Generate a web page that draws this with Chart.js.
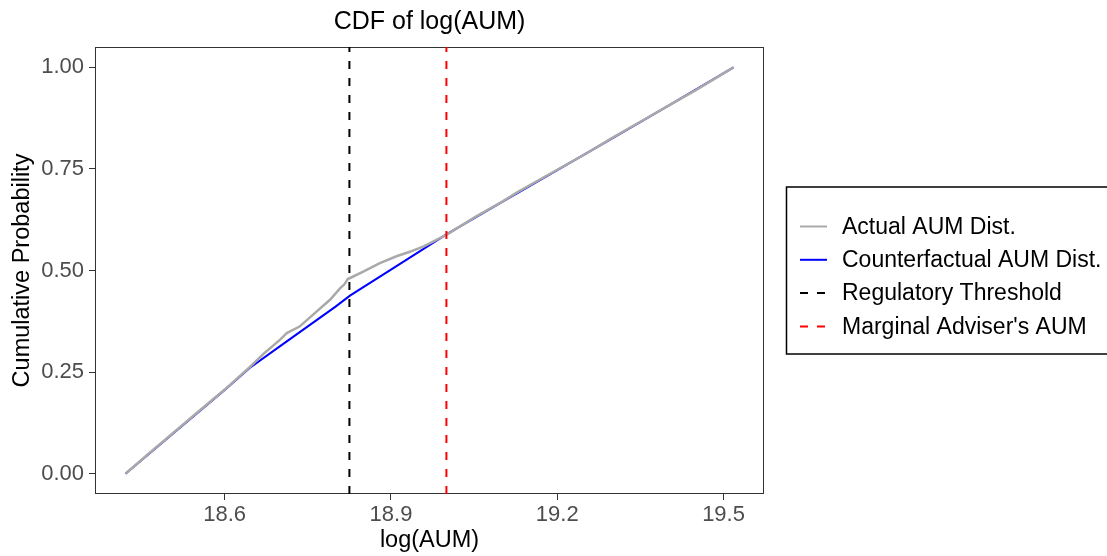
<!DOCTYPE html>
<html>
<head>
<meta charset="utf-8">
<script src="https://cdn.jsdelivr.net/npm/chart.js@4/dist/chart.umd.min.js"></script>
<style>
  body { margin: 0; background: #fff; }
  canvas { display: block; }
</style>
</head>
<body>
<canvas id="cdfChart" width="1107" height="556"></canvas>
<script>
// Dados
const actualX = [18.421, 18.46, 18.5, 18.55, 18.6, 18.645, 18.67, 18.7, 18.712, 18.735, 18.76, 18.79, 18.808, 18.816, 18.822, 18.83, 18.85, 18.88, 18.91, 18.934, 18.96, 18.976, 19.003, 19.05, 19.1, 19.13, 19.2, 19.25, 19.3, 19.35, 19.4, 19.45, 19.518];
const actualY = [0, 0.046, 0.092, 0.150, 0.207, 0.262, 0.295, 0.330, 0.346, 0.362, 0.392, 0.428, 0.456, 0.466, 0.479, 0.484, 0.497, 0.518, 0.535, 0.546, 0.560, 0.571, 0.590, 0.630, 0.669, 0.694, 0.748, 0.786, 0.827, 0.866, 0.905, 0.944, 1.0];

const counterX = [18.421, 18.5, 18.6, 18.645, 18.7, 18.8, 18.826, 18.9, 19.0, 19.1, 19.2, 19.3, 19.4, 19.518];
const counterY = [0, 0.091, 0.206, 0.260, 0.314, 0.411, 0.438, 0.502, 0.589, 0.668, 0.747, 0.826, 0.905, 1.0];

const thresholdX = 18.825;
const marginalX = 19.0;

const xTicks = [18.6, 18.9, 19.2, 19.5];
const yTicks = [0, 0.25, 0.5, 0.75, 1.0];

const legendLabels = ['Actual AUM Dist.', 'Counterfactual AUM Dist.', 'Regulatory Threshold', "Marginal Adviser's AUM"];

const yMin = -0.05, yMax = 1.05;
const toPoints = (xs, ys) => xs.map((x, i) => ({ x: x, y: ys[i] }));
const vline = x => [{ x: x, y: yMin }, { x: x, y: yMax }];

const FONT = 'Liberation Sans, Arial, sans-serif';

// moldura do painel + legenda
const extras = {
  id: 'extras',
  beforeDatasetsDraw(chart) {
    const { ctx, chartArea: a } = chart;
    ctx.save();
    ctx.strokeStyle = '#333333';
    ctx.lineWidth = 1;
    ctx.strokeRect(a.left + 0.5, a.top + 0.5, a.right - a.left - 1, a.bottom - a.top - 1);
    ctx.restore();
  },
  afterDraw(chart) {
    const ctx = chart.ctx;
    ctx.save();
    ctx.strokeStyle = '#000';
    ctx.lineWidth = 1.5;
    ctx.strokeRect(786.5, 187, 340, 167);
    const estilos = [
      { color: '#a9a9a9', dash: [] },
      { color: '#0000ff', dash: [] },
      { color: '#000000', dash: [8, 9] },
      { color: '#ff0000', dash: [8, 9] }
    ];
    ctx.font = '23px ' + FONT;
    ctx.textBaseline = 'middle';
    legendLabels.forEach((txt, i) => {
      const y = 226.5 + i * 33.3;
      ctx.strokeStyle = estilos[i].color;
      ctx.lineWidth = 2;
      ctx.setLineDash(estilos[i].dash);
      ctx.beginPath();
      ctx.moveTo(800, y);
      ctx.lineTo(827, y);
      ctx.stroke();
      ctx.setLineDash([]);
      ctx.fillStyle = '#000';
      ctx.fillText(txt, 842, y + 1);
    });
    ctx.restore();
  }
};

const ctx = document.getElementById('cdfChart').getContext('2d');
const grafico = new Chart(ctx, {
  type: 'scatter',
  data: {
    datasets: [
      {
        label: 'Counterfactual AUM Dist.',
        data: toPoints(counterX, counterY),
        borderColor: '#0000ff',
        borderWidth: 2,
        showLine: true,
        pointRadius: 0,
        order: 3
      },
      {
        label: 'Actual AUM Dist.',
        data: toPoints(actualX, actualY),
        borderColor: '#a9a9a9',
        borderWidth: 2.5,
        showLine: true,
        pointRadius: 0,
        order: 2
      },
      {
        label: 'Regulatory Threshold',
        data: vline(thresholdX),
        borderColor: '#000000',
        borderWidth: 2,
        borderDash: [8, 9],
        showLine: true,
        pointRadius: 0,
        order: 1
      },
      {
        label: "Marginal Adviser's AUM",
        data: vline(marginalX),
        borderColor: '#ff0000',
        borderWidth: 2,
        borderDash: [8, 9],
        showLine: true,
        pointRadius: 0,
        order: 0
      }
    ]
  },
  options: {
    responsive: false,
    animation: false,
    layout: { padding: { left: 0, right: 343, top: 0, bottom: 0 } },
    scales: {
      x: {
        type: 'linear',
        min: 18.366,
        max: 19.573,
        afterFit: s => { s.height = 62; },
        afterBuildTicks: s => { s.ticks = xTicks.map(v => ({ value: v })); },
        ticks: {
          color: '#4d4d4d',
          font: { family: FONT, size: 22 },
          padding: 2,
          maxRotation: 0,
          callback: v => v.toFixed(1)
        },
        grid: { drawOnChartArea: false, drawTicks: true, tickLength: 6, tickColor: '#333333' },
        border: { display: false },
        title: {
          display: true,
          text: 'log(AUM)',
          color: '#000',
          font: { family: FONT, size: 23.5 },
          padding: { top: 0, bottom: 1 }
        }
      },
      y: {
        type: 'linear',
        min: yMin,
        max: yMax,
        afterFit: s => { s.width = 95; },
        afterBuildTicks: s => { s.ticks = yTicks.map(v => ({ value: v })); },
        ticks: {
          color: '#4d4d4d',
          font: { family: FONT, size: 22 },
          padding: 5,
          callback: v => v.toFixed(2)
        },
        grid: { drawOnChartArea: false, drawTicks: true, tickLength: 6, tickColor: '#333333' },
        border: { display: false },
        title: {
          display: true,
          text: 'Cumulative Probability',
          color: '#000',
          font: { family: FONT, size: 23.5 },
          padding: { top: 8, bottom: 0 }
        }
      }
    },
    plugins: {
      legend: { display: false },
      tooltip: { enabled: false },
      title: {
        display: true,
        fullSize: false,
        text: 'CDF of log(AUM)',
        color: '#000',
        font: { family: FONT, size: 25, weight: 'normal' },
        padding: { top: 7, bottom: 10 }
      }
    }
  },
  plugins: [extras]
});
</script>
</body>
</html>
